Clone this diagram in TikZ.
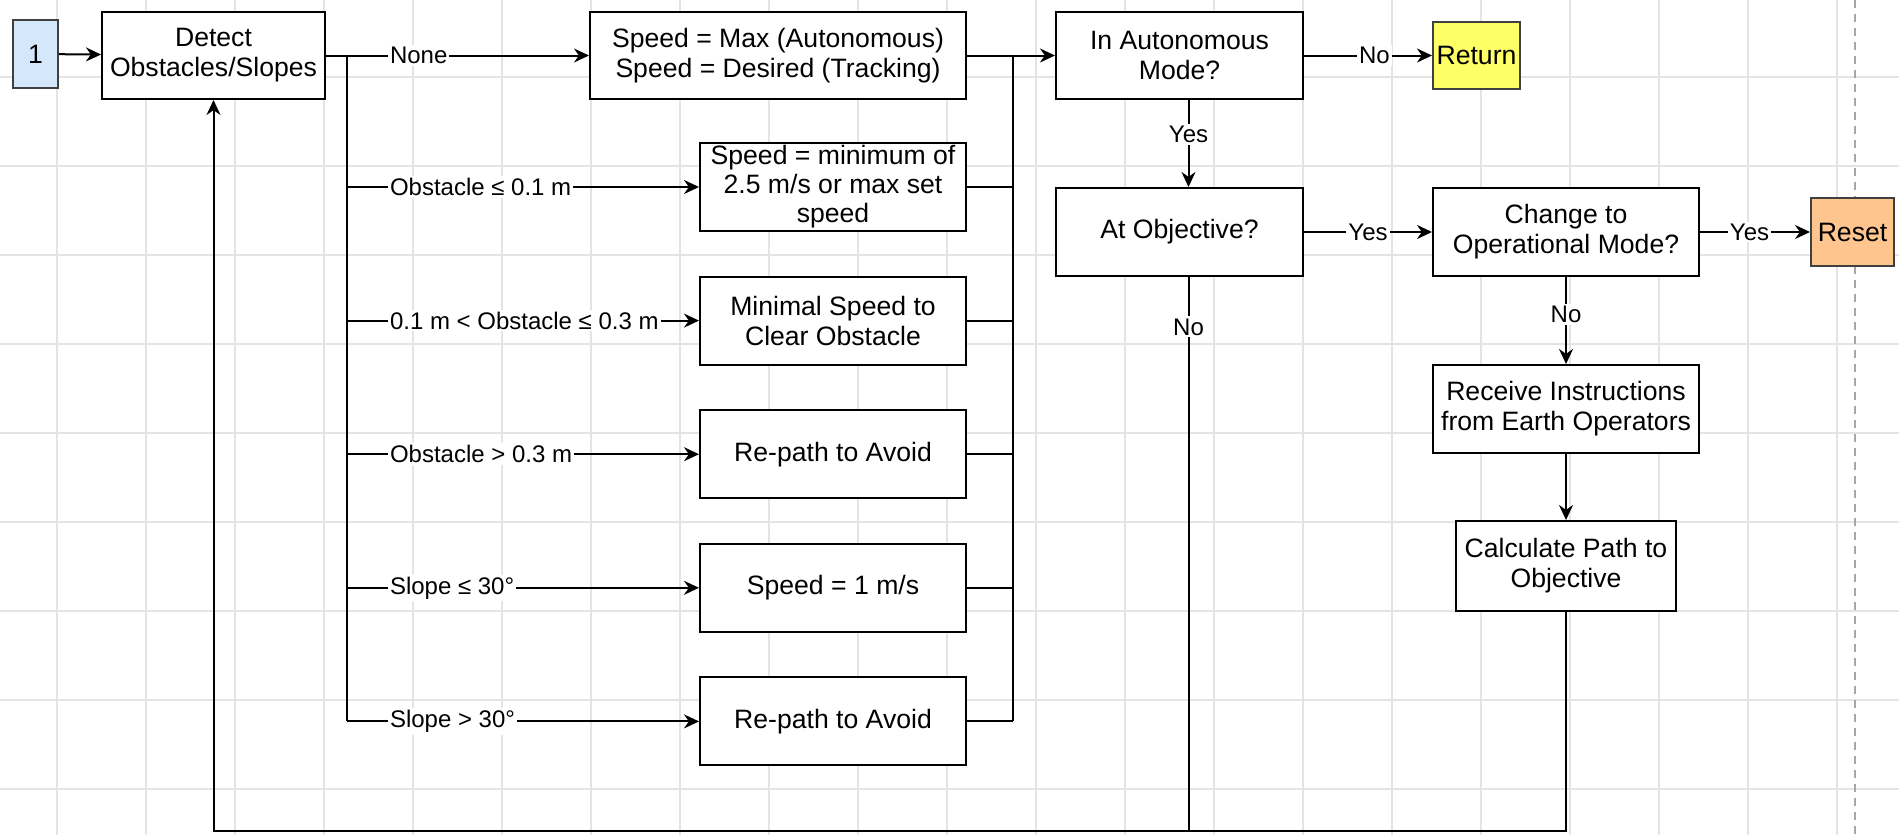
\documentclass[tikz,border=0pt]{standalone}
\usepackage{fontspec}
\setmainfont{Liberation Sans}
\usepackage{tikz}
\usetikzlibrary{positioning,arrows.meta,calc}

\definecolor{startblue}{HTML}{D5E8FB}
\definecolor{returnyellow}{HTML}{FFFF66}
\definecolor{resetorange}{HTML}{FFC58F}
\definecolor{gridgray}{HTML}{E4E4E4}

\begin{document}
\begin{tikzpicture}[
    x=0.5pt, y=-0.5pt,
    node distance=21.8pt,
    box/.style={rectangle, draw, line width=1pt, minimum width=133pt, minimum height=44pt, align=center, fill=white, inner sep=1pt, font=\fontsize{13.3}{15}\selectfont},
    term/.style={rectangle, draw=black!75, line width=1pt, align=center, inner sep=1pt, font=\fontsize{13.3}{15}\selectfont},
    arrow/.style={-{Stealth[length=7.5pt,width=7pt]}, line width=1pt},
    line/.style={line width=1pt},
    cond/.style={fill=white, inner sep=1pt, font=\fontsize{12}{14}\selectfont},
    gridline/.style={gridgray, line width=0.6pt}
]

\useasboundingbox (0,0) rectangle (1899,835);
\foreach \gx in {57,146,...,1837} \draw[gridline] (\gx,0) -- (\gx,835);
\foreach \gy in {77,166,...,789} \draw[gridline] (0,\gy) -- (1899,\gy);
\draw[gray!70, dash pattern=on 4pt off 3pt, line width=0.6pt] (1855,0) -- (1855,835);

\node[term, fill=startblue, minimum width=22.5pt, minimum height=34pt] (start) at (35.5,54) {1};
\node[box, minimum width=111.5pt, minimum height=43.5pt] (detect) at (213.5,55.5) {Detect\\Obstacles/Slopes};
\node[box, minimum width=188pt, minimum height=43.5pt] (full) at (778,55.5) {Speed = Max (Autonomous)\\Speed = Desired (Tracking)};
\node[box, font=\fontsize{13.3}{14.5}\selectfont] (capped) at (833,187) {Speed = minimum of\\2.5 m/s or max set\\speed};
\node[box, below=of capped] (clear) {Minimal Speed to\\Clear Obstacle};
\node[box, below=of clear] (avoid) {Re-path to Avoid};
\node[box, below=of avoid] (slow) {Speed = 1 m/s};
\node[box, below=of slow] (avoidb) {Re-path to Avoid};

\node[box, minimum width=123.5pt, minimum height=43.5pt] (auto) at (1179.5,55.5) {In Autonomous\\Mode?};
\node[box, minimum width=123.5pt, below=43.5pt of auto] (goal) {At Objective?};
\node[box, right=64pt of goal] (opmode) {Change to\\Operational Mode?};
\node[box, below=43.5pt of opmode] (earth) {Receive Instructions\\from Earth Operators};
\node[box, minimum width=110pt, minimum height=45pt, below=33pt of earth] (path) {Calculate Path to\\Objective};
\node[term, fill=returnyellow, minimum width=43.5pt, minimum height=33.5pt, right=64pt of auto] (return) {Return};
\node[term, fill=resetorange, minimum width=41.5pt, minimum height=34pt, right=55pt of opmode] (reset) {Reset};

\coordinate (split) at ($(detect.east)+(10.5pt,0)$);
\coordinate (join) at ($(full.east)+(23pt,0)$);
\coordinate (bottom) at (0,831);

\draw[arrow] (start) -- (detect);
\draw[arrow] (detect) -- node[cond, at start, anchor=west, xshift=30.5pt] {None} (full);
\draw[line] (split) -- (split |- avoidb);
\foreach \n/\t in {capped/{Obstacle ≤ 0.1 m}, clear/{0.1 m < Obstacle ≤ 0.3 m}, avoid/{Obstacle > 0.3 m}, slow/{Slope ≤ 30°}, avoidb/{Slope > 30°}}
    \draw[arrow] (split |- \n) -- node[cond, at start, anchor=west, xshift=20pt] {\t} (\n);
\foreach \n in {capped,clear,avoid,slow,avoidb}
    \draw[line] (\n.east) -- (\n.east -| join);
\draw[line] (join) -- (join |- avoidb);

\draw[arrow] (full) -- (auto);
\draw[arrow] (auto) -- node[cond, pos=0.55] {No} (return);
\draw[arrow] ([xshift=4.5pt]auto.south) -- node[cond, pos=0.4] {Yes} ([xshift=4.5pt]goal.north);
\draw[arrow] (goal) -- node[cond] {Yes} (opmode);
\draw[arrow] (opmode) -- node[cond, pos=0.45] {Yes} (reset);
\draw[arrow] (opmode) -- node[cond, pos=0.43] {No} (earth);
\draw[arrow] (earth) -- (path);
\draw[line] ([xshift=4.5pt]goal.south) -- node[cond, pos=0.09] {No} ([xshift=4.5pt]goal.south |- bottom);
\draw[arrow] (path.south) -- (path.south |- bottom) -| (detect.south);

\end{tikzpicture}
\end{document}
